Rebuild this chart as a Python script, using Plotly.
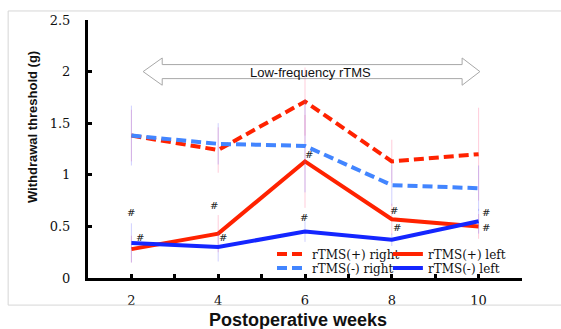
import plotly.graph_objects as go

weeks = [2, 4, 6, 8, 10]
plus_right = [1.38, 1.24, 1.71, 1.13, 1.20]
plus_left = [0.28, 0.43, 1.13, 0.57, 0.50]
minus_right = [1.38, 1.30, 1.28, 0.90, 0.87]
minus_left = [0.34, 0.30, 0.45, 0.37, 0.55]

plus_right_err = [0.25, 0.22, 0.33, 0.21, 0.45]
plus_left_err = [0.13, 0.18, 0.45, 0.15, 0.12]
minus_right_err = [0.29, 0.20, 0.45, 0.20, 0.22]
minus_left_err = [0.19, 0.14, 0.10, 0.06, 0.12]

hash_x = [2.0, 2.2, 3.9, 4.12, 6.1, 5.97, 8.05, 8.12, 10.17, 10.17]
hash_y = [0.63, 0.39, 0.70, 0.39, 1.20, 0.59, 0.65, 0.49, 0.63, 0.49]

x_tickvals = [2, 3, 4, 5, 6, 7, 8, 9, 10, 11]
x_ticktext = ["2", "", "4", "", "6", "", "8", "", "10", ""]
y_tickvals = [0, 0.5, 1, 1.5, 2, 2.5]
y_ticktext = ["0", "0.5", "1", "1.5", "2", "2.5"]

RED = "#ff2200"
BLUE_D = "#4285ff"
BLUE_S = "#1426ff"
PINK_ERR = "rgba(255,110,150,0.35)"
LAV_ERR = "rgba(110,110,255,0.32)"
SERIF = "DejaVu Serif"

fig = go.Figure()

series = [
    ("rTMS(+) right", plus_right, plus_right_err, RED, "10px,5px", PINK_ERR, "legend"),
    ("rTMS(+) left", plus_left, plus_left_err, RED, "solid", PINK_ERR, "legend2"),
    ("rTMS(-) right", minus_right, minus_right_err, BLUE_D, "10px,5px", LAV_ERR, "legend3"),
    ("rTMS(-) left", minus_left, minus_left_err, BLUE_S, "solid", LAV_ERR, "legend4"),
]
for name, ys, errs, col, dash, ecol, leg in series:
    fig.add_trace(go.Scatter(
        x=weeks, y=ys, name=name, mode="lines", legend=leg,
        line=dict(color=col, width=4, dash=dash),
        error_y=dict(type="data", array=errs, visible=True, color=ecol,
                     thickness=1, width=0),
    ))

for hx, hy in zip(hash_x, hash_y):
    fig.add_annotation(x=hx, y=hy, text="#", showarrow=False,
                       font=dict(family=SERIF, size=10, color="#222"),
                       xanchor="center", yanchor="middle")

# hollow double arrow for treatment period
ax0, ax1, ax2, ax3 = 2.27, 2.71, 9.62, 10.03
yc, ys_, yh = 2.0, 0.068, 0.132
path = (f"M {ax0},{yc} L {ax1},{yc+yh} L {ax1},{yc+ys_} L {ax2},{yc+ys_} "
        f"L {ax2},{yc+yh} L {ax3},{yc} L {ax2},{yc-yh} L {ax2},{yc-ys_} "
        f"L {ax1},{yc-ys_} L {ax1},{yc-yh} Z")
fig.add_shape(type="path", path=path, xref="x", yref="y",
              line=dict(color="#a8a8a8", width=1), fillcolor="white", layer="below")
fig.add_annotation(x=6.13, y=1.995, text="Low-frequency rTMS", showarrow=False,
                   font=dict(family="Liberation Sans", size=13, color="#111"),
                   xanchor="center", yanchor="middle")

# axis titles
fig.add_annotation(xref="paper", yref="paper", x=0.484, y=-0.163,
                   text="<b>Postoperative weeks</b>", showarrow=False,
                   font=dict(family="Liberation Sans", size=18, color="#111"),
                   xanchor="center", yanchor="middle")
fig.add_annotation(xref="paper", yref="paper", x=-0.129, y=0.585,
                   text="<b>Withdrawal threshold (g)</b>", showarrow=False,
                   textangle=-90,
                   font=dict(family="Liberation Sans", size=13, color="#111"),
                   xanchor="center", yanchor="middle")

# outer light frame
fig.add_shape(type="rect", xref="paper", yref="paper",
              x0=-0.184, x1=1.2, y0=-0.105, y1=1.035,
              line=dict(color="#d6d6d6", width=1), fillcolor="rgba(0,0,0,0)")

legend_common = dict(orientation="h", xanchor="left", yanchor="middle",
                     bgcolor="rgba(0,0,0,0)",
                     font=dict(family=SERIF, size=12, color="#111"),
                     tracegroupgap=0, itemwidth=30)

fig.update_layout(
    width=561, height=329,
    margin=dict(l=88, r=39, t=20, b=51, autoexpand=False),
    paper_bgcolor="white", plot_bgcolor="white",
    showlegend=True,
    legend=dict(x=0.424, y=0.093, **legend_common),
    legend2=dict(x=0.691, y=0.093, **legend_common),
    legend3=dict(x=0.424, y=0.039, **legend_common),
    legend4=dict(x=0.691, y=0.039, **legend_common),
    xaxis=dict(range=[1, 11], tickvals=x_tickvals, ticktext=x_ticktext,
               showline=True, linecolor="black", linewidth=3,
               ticks="inside", ticklen=4, tickwidth=3, tickcolor="black",
               showgrid=False, zeroline=False, ticklabelstandoff=8,
               automargin=False,
               tickfont=dict(family=SERIF, size=13, color="#111")),
    yaxis=dict(range=[0, 2.5], tickvals=y_tickvals, ticktext=y_ticktext,
               showline=True, linecolor="black", linewidth=3,
               ticks="inside", ticklen=4, tickwidth=3, tickcolor="black",
               showgrid=False, zeroline=False, ticklabelstandoff=12,
               automargin=False,
               tickfont=dict(family=SERIF, size=13, color="#111")),
)

fig.write_html("out.html")
